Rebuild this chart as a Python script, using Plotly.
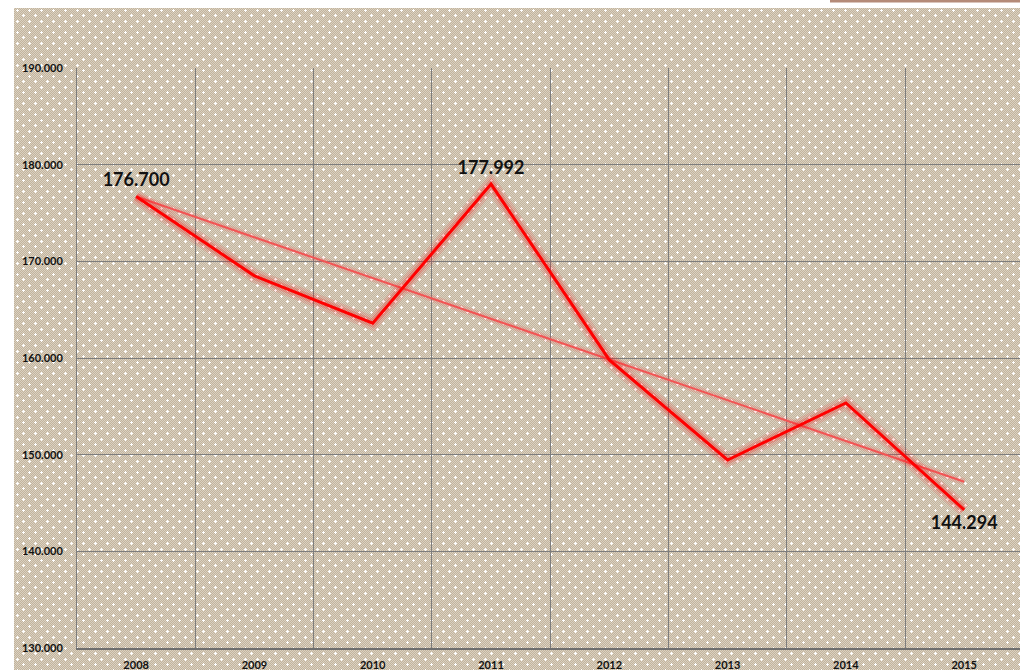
import base64
import plotly.graph_objects as go

# ---- data ----
years = ["2008", "2009", "2010", "2011", "2012", "2013", "2014", "2015"]
values = [176700, 168500, 163600, 177992, 159800, 149450, 155350, 144294]
trend_years = ["2008", "2015"]
trend_values = [176700, 147200]
label_years = ["2008", "2011", "2015"]
label_values = [176700, 177992, 144294]
y_ticks = [130000, 140000, 150000, 160000, 170000, 180000, 190000]

W, H = 1020, 670
L, R, T, B = 77, 0, 68, 22
pw, ph = W - L - R, H - T - B

def px_x(p):
    return (p - L) / pw

def px_y(p):
    return (H - B - p) / ph

# patterned background (beige checker with white crosses)
svg = (
    "<svg xmlns='http://www.w3.org/2000/svg' width='1006' height='662' shape-rendering='crispEdges'>"
    "<defs>"
    "<pattern id='c' width='2' height='2' patternUnits='userSpaceOnUse'>"
    "<rect width='2' height='2' fill='#c2b49d'/>"
    "<rect width='1' height='1' fill='#dbd1c1'/>"
    "<rect x='1' y='1' width='1' height='1' fill='#dbd1c1'/>"
    "</pattern>"
    "<pattern id='d' width='12' height='11' patternUnits='userSpaceOnUse'>"
    "<rect x='3' y='1' width='1' height='3' fill='#ffffff'/>"
    "<rect x='2' y='2' width='3' height='1' fill='#ffffff'/>"
    "<rect x='9' y='6' width='1' height='3' fill='#ffffff'/>"
    "<rect x='8' y='7' width='3' height='1' fill='#ffffff'/>"
    "</pattern>"
    "</defs>"
    "<rect width='1006' height='662' fill='url(#c)'/>"
    "<rect width='1006' height='662' fill='url(#d)'/>"
    "</svg>"
)
src = "data:image/svg+xml;base64," + base64.b64encode(svg.encode()).decode()

FONT = "Lato, 'Open Sans', sans-serif"

fig = go.Figure()

# trend line (with soft glow)
fig.add_trace(go.Scatter(x=trend_years, y=trend_values, mode="lines",
                         line=dict(color="rgba(255,60,60,0.15)", width=7),
                         hoverinfo="skip", showlegend=False))
fig.add_trace(go.Scatter(x=trend_years, y=trend_values, mode="lines",
                         line=dict(color="#f25454", width=2),
                         hoverinfo="skip", showlegend=False))

# main series glow
fig.add_trace(go.Scatter(x=years, y=values, mode="lines",
                         line=dict(color="rgba(255,0,0,0.10)", width=14),
                         hoverinfo="skip", showlegend=False))
fig.add_trace(go.Scatter(x=years, y=values, mode="lines",
                         line=dict(color="rgba(255,0,0,0.18)", width=8),
                         hoverinfo="skip", showlegend=False))
fig.add_trace(go.Scatter(x=years, y=values, mode="lines",
                         line=dict(color="#ff0000", width=3),
                         showlegend=False))

# data labels
fig.add_trace(go.Scatter(
    x=label_years, y=label_values, mode="markers+text",
    marker=dict(size=8, opacity=0),
    text=[f"{v:,}".replace(",", ".") for v in label_values],
    textposition=["top center", "top center", "bottom center"],
    textfont=dict(family=FONT, size=18, color="#111111", weight="bold"),
    hoverinfo="skip", showlegend=False, cliponaxis=False))

# top decoration
fig.add_shape(type="rect", xref="paper", yref="paper",
              x0=px_x(830), x1=px_x(1020), y0=px_y(2.5), y1=px_y(0),
              fillcolor="#b48a78", line_width=0, layer="above")

fig.update_layout(
    width=W, height=H,
    margin=dict(l=L, r=R, t=T, b=B, pad=0),
    paper_bgcolor="#ffffff",
    plot_bgcolor="rgba(0,0,0,0)",
    separators=",.",
    showlegend=False,
    images=[dict(source=src, xref="paper", yref="paper",
                 x=px_x(14), y=px_y(8), sizex=1006 / pw, sizey=662 / ph,
                 xanchor="left", yanchor="top", sizing="stretch", layer="below")],
    xaxis=dict(type="category", categoryorder="array", categoryarray=years,
               range=[-0.5, 7.472], tickson="boundaries",
               showgrid=True, gridcolor="#7d7d7d", gridwidth=1,
               showline=True, linecolor="#6f6f6f", linewidth=1.5,
               ticks="", ticklabelstandoff=6,
               tickfont=dict(family=FONT, size=11, color="#111111", weight="bold"),
               fixedrange=True),
    yaxis=dict(range=[130000, 190000], tickvals=y_ticks, tickformat=",.0f",
               showgrid=True, gridcolor="#7d7d7d", gridwidth=1,
               showline=True, linecolor="#7d7d7d", linewidth=1,
               zeroline=False, ticks="", ticklabelstandoff=11,
               tickfont=dict(family=FONT, size=11, color="#111111", weight="bold"),
               fixedrange=True),
    font=dict(family=FONT),
)

fig.write_html("out.html", config={"displayModeBar": False},
               post_script="document.body.style.margin='0';document.body.style.overflow='hidden';")
